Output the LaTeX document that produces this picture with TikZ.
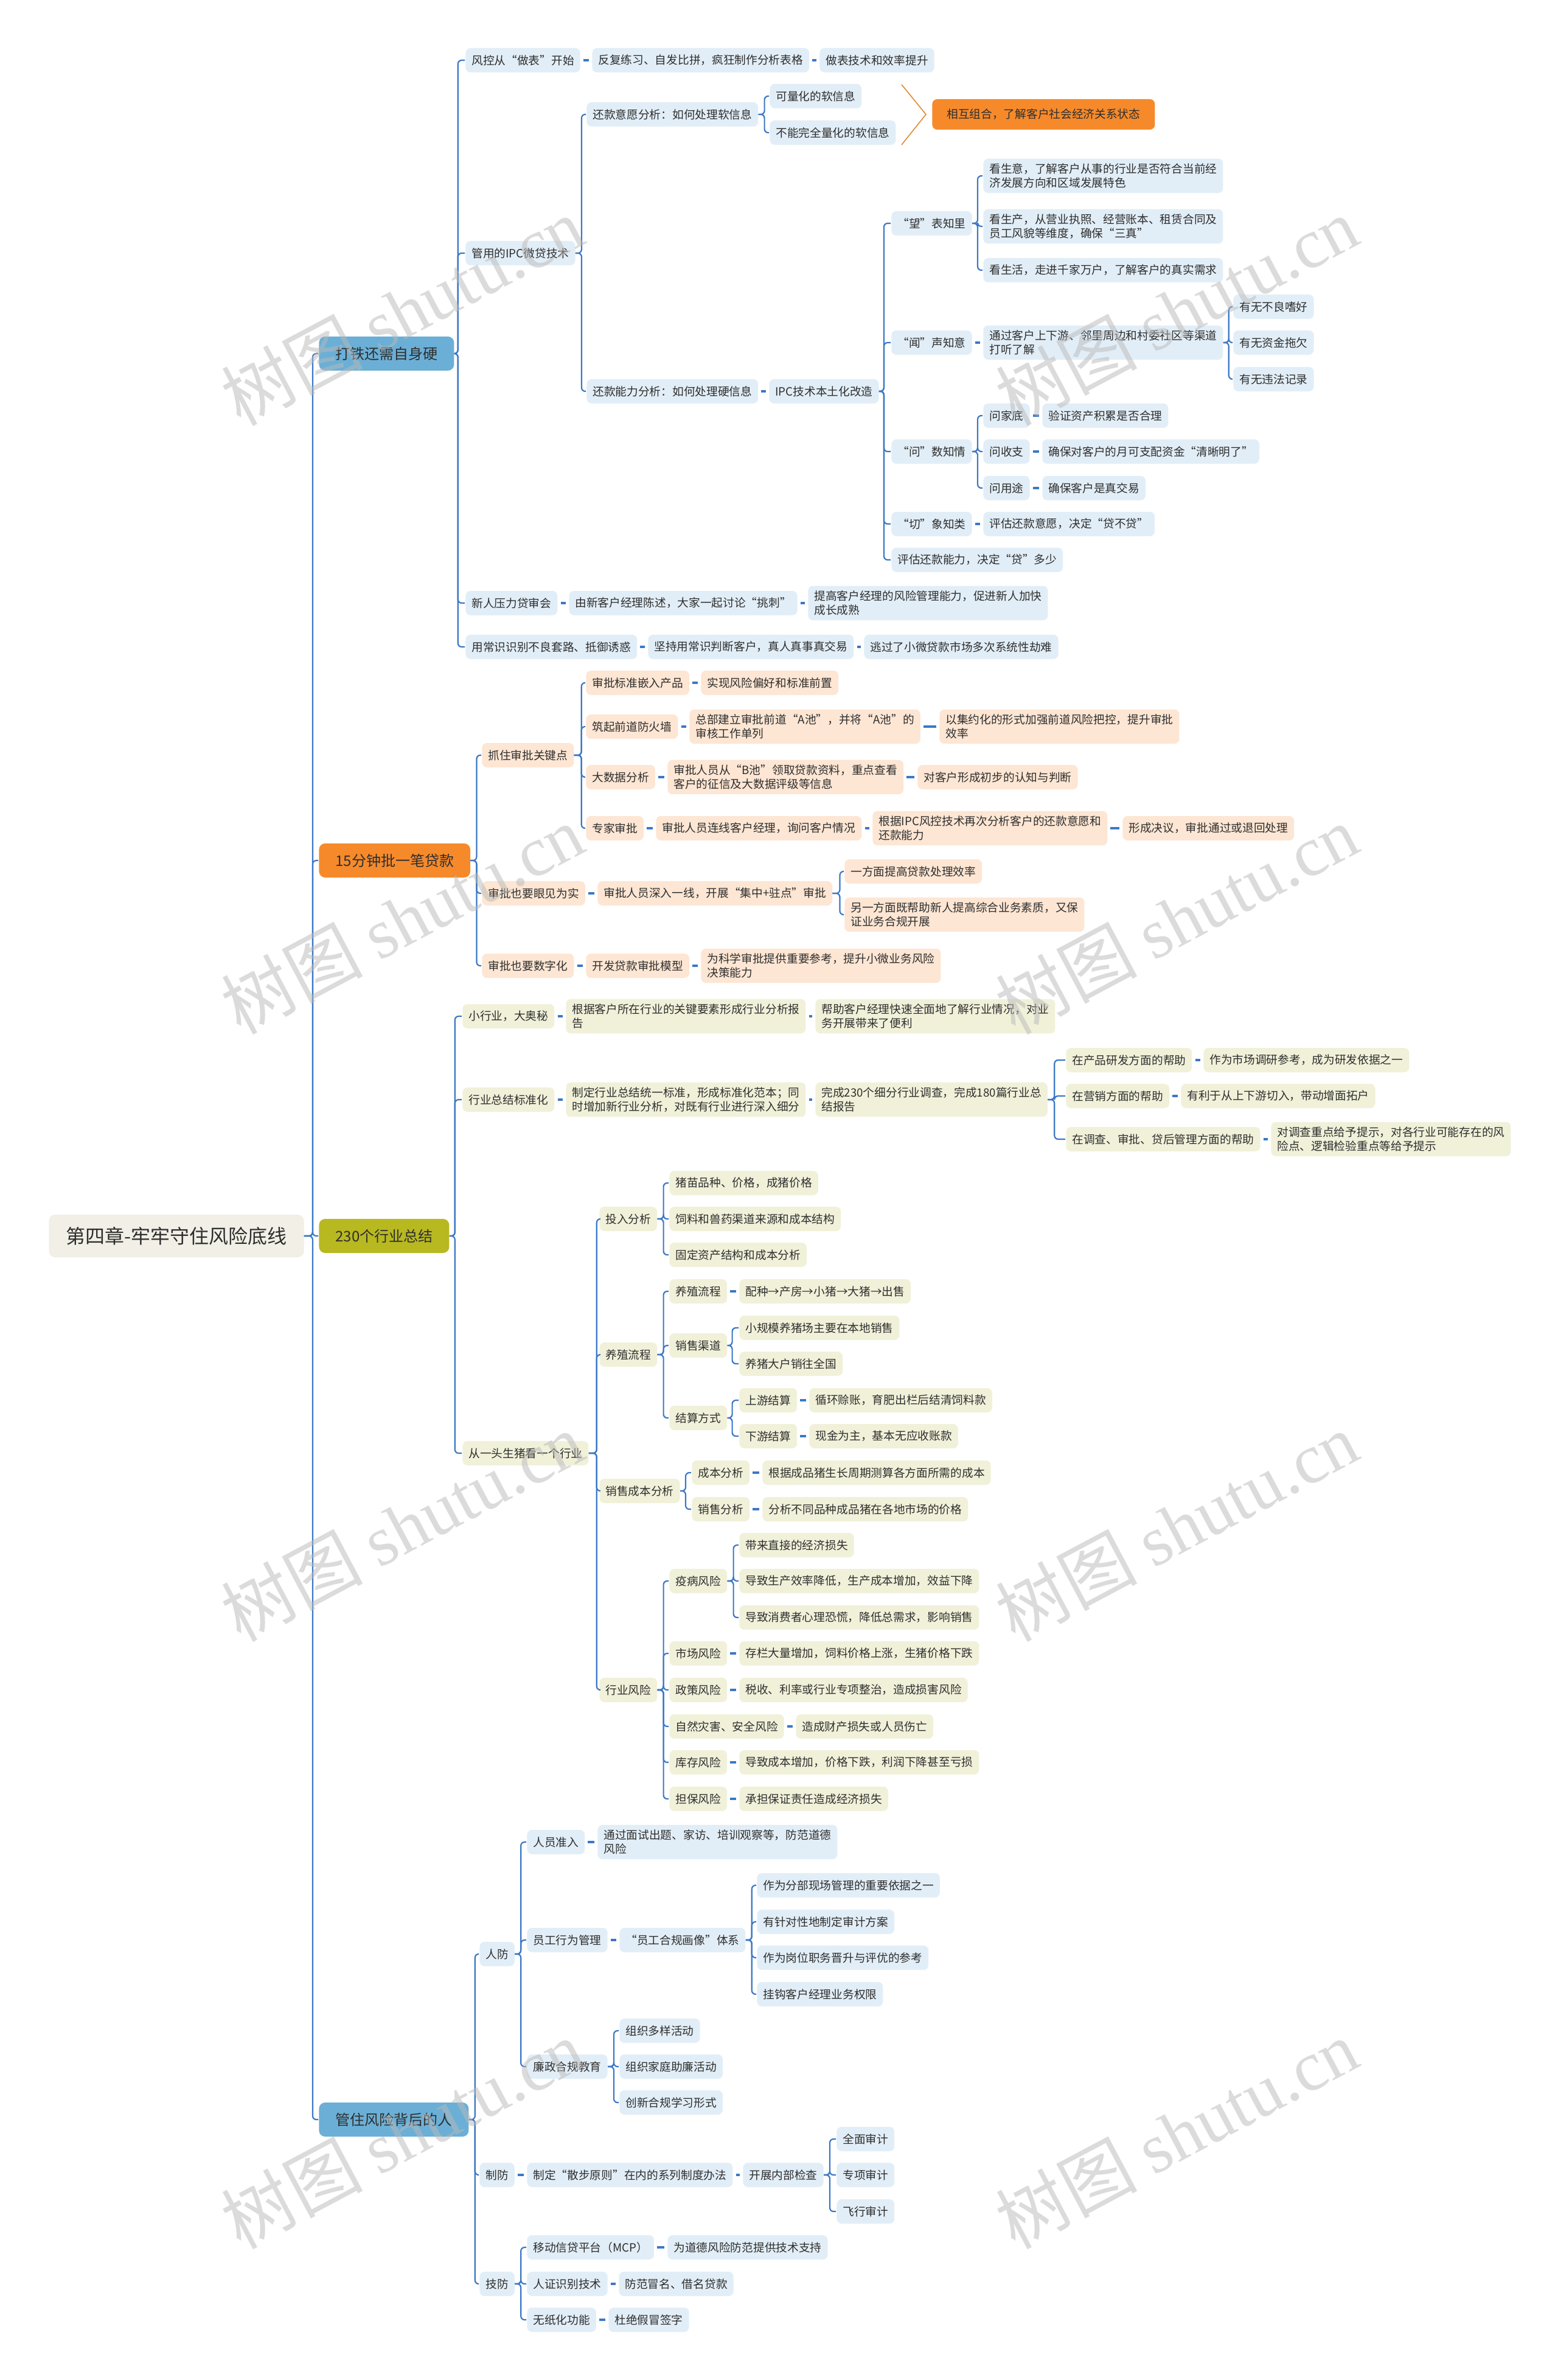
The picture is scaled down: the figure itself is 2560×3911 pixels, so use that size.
\documentclass[tikz,border=0pt]{standalone}
\usepackage{fontspec}
\setmainfont{Noto Sans CJK SC}
\newfontfamily\wmserif{Liberation Serif}
\usetikzlibrary{calc}
\definecolor{lc}{HTML}{3B78C5}
\definecolor{txt}{HTML}{2E2E2E}
\definecolor{lbfill}{HTML}{E2EEF7}
\definecolor{lpfill}{HTML}{FDE6D3}
\definecolor{lofill}{HTML}{F1F1DA}
\definecolor{mblue}{HTML}{6BAFD6}
\definecolor{morange}{HTML}{F68A2B}
\definecolor{molive}{HTML}{B8B820}
\definecolor{rootfill}{HTML}{F1EFE6}
\definecolor{chevc}{HTML}{E08A34}
\newcommand\lffont{\fontsize{9.35pt}{11.5pt}\selectfont}
\newcommand\mnfont{\fontsize{12pt}{14pt}\selectfont}
\newcommand\rtfont{\fontsize{16pt}{19pt}\selectfont}
\newcommand\brc[3]{\foreach \chn in {#3}{\draw[conn] (#1.east) -- ++(#2,0) |- (\chn.west);}}
\newcommand\dsh[2]{\draw[dconn] (#1.east) -- (#2.west);}
\tikzset{
  base/.style={rounded corners=4pt, inner xsep=5pt, inner ysep=4pt, minimum height=20pt,
    anchor=west, align=left, text=txt, font=\lffont},
  lb/.style={base, fill=lbfill},
  lp/.style={base, fill=lpfill},
  lo/.style={base, fill=lofill},
  ob/.style={base, fill=morange, inner xsep=12pt, minimum height=25pt},
  mainbox/.style={rounded corners=5pt, inner xsep=13.5pt, minimum height=28pt,
    anchor=west, font=\mnfont, text=txt},
  rootbox/.style={rounded corners=5pt, inner xsep=14pt, minimum height=35pt,
    anchor=west, font=\rtfont, text=txt, fill=rootfill},
  conn/.style={draw=lc, line width=1.1pt, rounded corners=3pt, shorten >=0.5pt},
  dconn/.style={draw=lc, line width=1.7pt, shorten <=2.4pt, shorten >=2.4pt},
  chev/.style={draw=chevc, line width=0.8pt},
  wm/.style={rotate=28, text=gray!55, opacity=0.5, font=\fontsize{58pt}{60pt}\selectfont}
}
\begin{document}
\begin{tikzpicture}[x=0.5pt,y=-0.5pt]
\fill[white] (0,0) rectangle (2560,3911);
\useasboundingbox (0,0) rectangle (2560,3911);

% root and main branches
\node[rootbox] (root) at (80,2031) {第四章-牢牢守住风险底线};
\node[mainbox, fill=mblue] (m1) at (524,581) {打铁还需自身硬};
\node[mainbox, fill=morange] (m2) at (524,1414) {15分钟批一笔贷款};
\node[mainbox, fill=molive] (m3) at (524,2031) {230个行业总结};
\node[mainbox, fill=mblue] (m4) at (524,3483) {管住风险背后的人};

% ---------------- section 1
\node[lb] (a1) at (765,99) {风控从“做表”开始};
\node[lb] (a1a) at (973,99) {反复练习、自发比拼，疯狂制作分析表格};
\node[lb] (a1b) at (1347,99) {做表技术和效率提升};
\node[lb] (a2) at (765,416) {管用的IPC微贷技术};
\node[lb] (a2a) at (964,188) {还款意愿分析：如何处理软信息};
\node[lb] (a2a1) at (1265,158) {可量化的软信息};
\node[lb] (a2a2) at (1265,218) {不能完全量化的软信息};
\node[ob] (or) at (1532,188) {相互组合，了解客户社会经济关系状态};
\node[lb] (a2b) at (964,643) {还款能力分析：如何处理硬信息};
\node[lb] (ipc) at (1264,643) {IPC技术本土化改造};
\node[lb] (w1) at (1465,367) {“望”表知里};
\node[lb] (w1a) at (1616,289) {看生意，了解客户从事的行业是否符合当前经\\济发展方向和区域发展特色};
\node[lb] (w1b) at (1616,372) {看生产，从营业执照、经营账本、租赁合同及\\员工风貌等维度，确保“三真”};
\node[lb] (w1c) at (1616,444) {看生活，走进千家万户，了解客户的真实需求};
\node[lb] (w2) at (1465,563) {“闻”声知意};
\node[lb] (w2a) at (1616,563) {通过客户上下游、邻里周边和村委社区等渠道\\打听了解};
\node[lb] (w2a1) at (2027,504) {有无不良嗜好};
\node[lb] (w2a2) at (2027,563) {有无资金拖欠};
\node[lb] (w2a3) at (2027,623) {有无违法记录};
\node[lb] (w3) at (1465,742) {“问”数知情};
\node[lb] (w3a) at (1616,683) {问家底};
\node[lb] (w3a1) at (1713,683) {验证资产积累是否合理};
\node[lb] (w3b) at (1616,742) {问收支};
\node[lb] (w3b1) at (1713,742) {确保对客户的月可支配资金“清晰明了”};
\node[lb] (w3c) at (1616,802) {问用途};
\node[lb] (w3c1) at (1713,802) {确保客户是真交易};
\node[lb] (w4) at (1465,861) {“切”象知类};
\node[lb] (w4a) at (1616,861) {评估还款意愿，决定“贷不贷”};
\node[lb] (w5) at (1465,920) {评估还款能力，决定“贷”多少};
\node[lb] (a3) at (765,991) {新人压力贷审会};
\node[lb] (a3a) at (935,991) {由新客户经理陈述，大家一起讨论“挑刺”};
\node[lb] (a3b) at (1328,991) {提高客户经理的风险管理能力，促进新人加快\\成长成熟};
\node[lb] (a4) at (765,1063) {用常识识别不良套路、抵御诱惑};
\node[lb] (a4a) at (1065,1063) {坚持用常识判断客户，真人真事真交易};
\node[lb] (a4b) at (1420,1063) {逃过了小微贷款市场多次系统性劫难};

% ---------------- section 2
\node[lp] (b1) at (792,1241) {抓住审批关键点};
\node[lp] (b1a) at (963,1122) {审批标准嵌入产品};
\node[lp] (b1a1) at (1152,1122) {实现风险偏好和标准前置};
\node[lp] (b1b) at (963,1194) {筑起前道防火墙};
\node[lp] (b1b1) at (1133,1194) {总部建立审批前道“A池”，并将“A池”的\\审核工作单列};
\node[lp] (b1b2) at (1544,1194) {以集约化的形式加强前道风险把控，提升审批\\效率};
\node[lp] (b1c) at (963,1277) {大数据分析};
\node[lp] (b1c1) at (1097,1277) {审批人员从“B池”领取贷款资料，重点查看\\客户的征信及大数据评级等信息};
\node[lp] (b1c2) at (1508,1277) {对客户形成初步的认知与判断};
\node[lp] (b1d) at (963,1361) {专家审批};
\node[lp] (b1d1) at (1078,1361) {审批人员连线客户经理，询问客户情况};
\node[lp] (b1d2) at (1434,1361) {根据IPC风控技术再次分析客户的还款意愿和\\还款能力};
\node[lp] (b1d3) at (1845,1361) {形成决议，审批通过或退回处理};
\node[lp] (b2) at (792,1468) {审批也要眼见为实};
\node[lp] (b2a) at (982,1468) {审批人员深入一线，开展“集中+驻点”审批};
\node[lp] (b2a1) at (1388,1432) {一方面提高贷款处理效率};
\node[lp] (b2a2) at (1388,1503) {另一方面既帮助新人提高综合业务素质，又保\\证业务合规开展};
\node[lp] (b3) at (792,1587) {审批也要数字化};
\node[lp] (b3a) at (963,1587) {开发贷款审批模型};
\node[lp] (b3b) at (1152,1587) {为科学审批提供重要参考，提升小微业务风险\\决策能力};

% ---------------- section 3
\node[lo] (c1) at (760,1670) {小行业，大奥秘};
\node[lo] (c1a) at (930,1670) {根据客户所在行业的关键要素形成行业分析报\\告};
\node[lo] (c1b) at (1340,1670) {帮助客户经理快速全面地了解行业情况，对业\\务开展带来了便利};
\node[lo] (c2) at (760,1807) {行业总结标准化};
\node[lo] (c2a) at (930,1807) {制定行业总结统一标准，形成标准化范本；同\\时增加新行业分析，对既有行业进行深入细分};
\node[lo] (c2b) at (1340,1807) {完成230个细分行业调查，完成180篇行业总\\结报告};
\node[lo] (c2b1) at (1752,1742) {在产品研发方面的帮助};
\node[lo] (c2b1a) at (1978,1742) {作为市场调研参考，成为研发依据之一};
\node[lo] (c2b2) at (1752,1801) {在营销方面的帮助};
\node[lo] (c2b2a) at (1941,1801) {有利于从上下游切入，带动增面拓户};
\node[lo] (c2b3) at (1752,1872) {在调查、审批、贷后管理方面的帮助};
\node[lo] (c2b3a) at (2089,1872) {对调查重点给予提示，对各行业可能存在的风\\险点、逻辑检验重点等给予提示};
\node[lo] (c3) at (760,2388) {从一头生猪看一个行业};
\node[lo] (d1) at (985,2003) {投入分析};
\node[lo] (d1a) at (1100,1944) {猪苗品种、价格，成猪价格};
\node[lo] (d1b) at (1100,2003) {饲料和兽药渠道来源和成本结构};
\node[lo] (d1c) at (1100,2062) {固定资产结构和成本分析};
\node[lo] (d2) at (985,2226) {养殖流程};
\node[lo] (e1) at (1100,2122) {养殖流程};
\node[lo] (e1a) at (1215,2122) {配种→产房→小猪→大猪→出售};
\node[lo] (e2) at (1100,2211) {销售渠道};
\node[lo] (e2a) at (1215,2182) {小规模养猪场主要在本地销售};
\node[lo] (e2b) at (1215,2241) {养猪大户销往全国};
\node[lo] (e3) at (1100,2330) {结算方式};
\node[lo] (e3a) at (1215,2301) {上游结算};
\node[lo] (e3a1) at (1330,2301) {循环赊账，育肥出栏后结清饲料款};
\node[lo] (e3b) at (1215,2360) {下游结算};
\node[lo] (e3b1) at (1330,2360) {现金为主，基本无应收账款};
\node[lo] (d3) at (985,2450) {销售成本分析};
\node[lo] (d3a) at (1137,2420) {成本分析};
\node[lo] (d3a1) at (1253,2420) {根据成品猪生长周期测算各方面所需的成本};
\node[lo] (d3b) at (1137,2480) {销售分析};
\node[lo] (d3b1) at (1253,2480) {分析不同品种成品猪在各地市场的价格};
\node[lo] (d4) at (985,2777) {行业风险};
\node[lo] (f1) at (1100,2598) {疫病风险};
\node[lo] (f1a) at (1215,2539) {带来直接的经济损失};
\node[lo] (f1b) at (1215,2598) {导致生产效率降低，生产成本增加，效益下降};
\node[lo] (f1c) at (1215,2658) {导致消费者心理恐慌，降低总需求，影响销售};
\node[lo] (f2) at (1100,2717) {市场风险};
\node[lo] (f2a) at (1215,2717) {存栏大量增加，饲料价格上涨，生猪价格下跌};
\node[lo] (f3) at (1100,2777) {政策风险};
\node[lo] (f3a) at (1215,2777) {税收、利率或行业专项整治，造成损害风险};
\node[lo] (f4) at (1100,2837) {自然灾害、安全风险};
\node[lo] (f4a) at (1308,2837) {造成财产损失或人员伤亡};
\node[lo] (f5) at (1100,2896) {库存风险};
\node[lo] (f5a) at (1215,2896) {导致成本增加，价格下跌，利润下降甚至亏损};
\node[lo] (f6) at (1100,2956) {担保风险};
\node[lo] (f6a) at (1215,2956) {承担保证责任造成经济损失};

% ---------------- section 4
\node[lb] (g1) at (788,3211) {人防};
\node[lb] (h1) at (866,3027) {人员准入};
\node[lb] (h1a) at (982,3027) {通过面试出题、家访、培训观察等，防范道德\\风险};
\node[lb] (h2) at (866,3188) {员工行为管理};
\node[lb] (h2a) at (1018,3188) {“员工合规画像”体系};
\node[lb] (h2a1) at (1244,3098) {作为分部现场管理的重要依据之一};
\node[lb] (h2a2) at (1244,3158) {有针对性地制定审计方案};
\node[lb] (h2a3) at (1244,3217) {作为岗位职务晋升与评优的参考};
\node[lb] (h2a4) at (1244,3277) {挂钩客户经理业务权限};
\node[lb] (h3) at (866,3396) {廉政合规教育};
\node[lb] (h3a) at (1018,3337) {组织多样活动};
\node[lb] (h3b) at (1018,3396) {组织家庭助廉活动};
\node[lb] (h3c) at (1018,3455) {创新合规学习形式};
\node[lb] (g2) at (788,3574) {制防};
\node[lb] (g2a) at (866,3574) {制定“散步原则”在内的系列制度办法};
\node[lb] (g2b) at (1221,3574) {开展内部检查};
\node[lb] (g2b1) at (1375,3515) {全面审计};
\node[lb] (g2b2) at (1375,3574) {专项审计};
\node[lb] (g2b3) at (1375,3634) {飞行审计};
\node[lb] (g3) at (788,3753) {技防};
\node[lb] (g3a) at (866,3693) {移动信贷平台（MCP）};
\node[lb] (g3a1) at (1097,3693) {为道德风险防范提供技术支持};
\node[lb] (g3b) at (866,3753) {人证识别技术};
\node[lb] (g3b1) at (1017,3753) {防范冒名、借名贷款};
\node[lb] (g3c) at (866,3812) {无纸化功能};
\node[lb] (g3c1) at (1000,3812) {杜绝假冒签字};

% ---------------- connectors
\brc{root}{14}{m1,m2,m3,m4}
\brc{m1}{6}{a1,a2,a3,a4}
\dsh{a1}{a1a} \dsh{a1a}{a1b}
\brc{a2}{10}{a2a,a2b}
\brc{a2a}{10}{a2a1,a2a2}
\coordinate (chtop) at ($(or.west)+(-50,-49)$);
\coordinate (chtip) at ($(or.west)+(-10,0)$);
\coordinate (chbot) at ($(or.west)+(-50,50)$);
\draw[chev] (chtop) -- (chtip) -- (chbot);
\dsh{a2b}{ipc}
\brc{ipc}{8}{w1,w2,w3,w4,w5}
\brc{w1}{9}{w1a,w1b,w1c}
\dsh{w2}{w2a}
\brc{w2a}{9}{w2a1,w2a2,w2a3}
\brc{w3}{9}{w3a,w3b,w3c}
\dsh{w3a}{w3a1} \dsh{w3b}{w3b1} \dsh{w3c}{w3c1}
\dsh{w4}{w4a}
\dsh{a3}{a3a} \dsh{a3a}{a3b}
\dsh{a4}{a4a} \dsh{a4a}{a4b}

\brc{m2}{10}{b1,b2,b3}
\brc{b1}{12}{b1a,b1b,b1c,b1d}
\dsh{b1a}{b1a1} \dsh{b1b}{b1b1} \dsh{b1b1}{b1b2} \dsh{b1c}{b1c1} \dsh{b1c1}{b1c2}
\dsh{b1d}{b1d1} \dsh{b1d1}{b1d2} \dsh{b1d2}{b1d3}
\dsh{b2}{b2a} \brc{b2a}{12}{b2a1,b2a2}
\dsh{b3}{b3a} \dsh{b3a}{b3b}

\brc{m3}{9}{c1,c2,c3}
\dsh{c1}{c1a} \dsh{c1a}{c1b}
\dsh{c2}{c2a} \dsh{c2a}{c2b}
\brc{c2b}{11}{c2b1,c2b2,c2b3}
\dsh{c2b1}{c2b1a} \dsh{c2b2}{c2b2a} \dsh{c2b3}{c2b3a}
\brc{c3}{13}{d1,d2,d3,d4}
\brc{d1}{10}{d1a,d1b,d1c}
\brc{d2}{10}{e1,e2,e3}
\dsh{e1}{e1a}
\brc{e2}{8}{e2a,e2b}
\brc{e3}{8}{e3a,e3b}
\dsh{e3a}{e3a1} \dsh{e3b}{e3b1}
\brc{d3}{9}{d3a,d3b}
\dsh{d3a}{d3a1} \dsh{d3b}{d3b1}
\brc{d4}{10}{f1,f2,f3,f4,f5,f6}
\brc{f1}{10}{f1a,f1b,f1c}
\dsh{f2}{f2a} \dsh{f3}{f3a} \dsh{f4}{f4a} \dsh{f5}{f5a} \dsh{f6}{f6a}

\brc{m4}{10}{g1,g2,g3}
\brc{g1}{10}{h1,h2,h3}
\dsh{h1}{h1a} \dsh{h2}{h2a}
\brc{h2a}{10}{h2a1,h2a2,h2a3,h2a4}
\brc{h3}{10}{h3a,h3b,h3c}
\dsh{g2}{g2a} \dsh{g2a}{g2b}
\brc{g2b}{10}{g2b1,g2b2,g2b3}
\brc{g3}{10}{g3a,g3b,g3c}
\dsh{g3a}{g3a1} \dsh{g3b}{g3b1} \dsh{g3c}{g3c1}

% ---------------- watermarks
\foreach \wy [count=\wi] in {511,1510,2508,3506}{
  \node[wm] (wl\wi) at (661,\wy) {树图 {\wmserif shutu.cn}};
  \node[wm] (wr\wi) at (1934,\wy) {树图 {\wmserif shutu.cn}};
}
\end{tikzpicture}
\end{document}
